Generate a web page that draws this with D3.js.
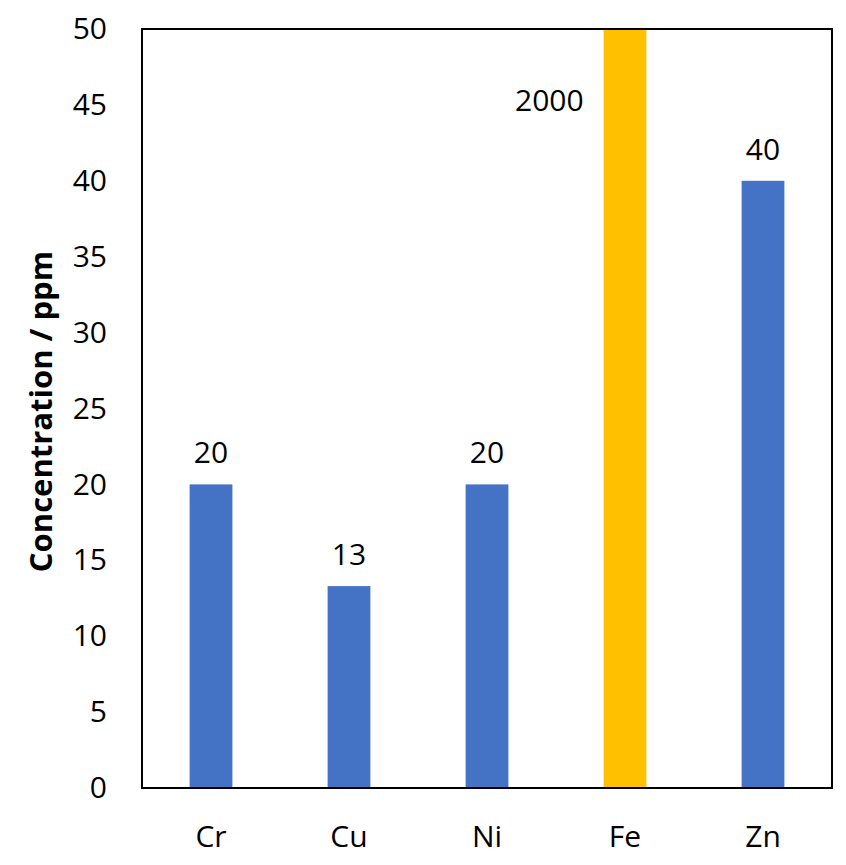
<!DOCTYPE html>
<html><head><meta charset="utf-8">
<script src="https://cdn.jsdelivr.net/npm/d3@7"></script>
<style>body{margin:0;background:#fff}</style>
</head><body>
<script>
const categories = ["Cr","Cu","Ni","Fe","Zn"];
const values = [20, 13.3, 20, 2000, 40];
const labels = ["20","13","20","2000","40"];
const colors = ["#4472C4","#4472C4","#4472C4","#FFC000","#4472C4"];
const yTicks = [0,5,10,15,20,25,30,35,40,45,50];

const W = 846, H = 865;
const m = {left:142, top:29, right:14, bottom:77};
const font = "'Open Sans', 'Liberation Sans', sans-serif";
const fs = 30;
const svg = d3.select("body").append("svg").attr("width",W).attr("height",H);
const x = d3.scaleBand().domain(categories).range([m.left, W-m.right]).paddingInner(0.69).paddingOuter(0.345);
const y = d3.scaleLinear().domain([0,50]).range([H-m.bottom, m.top]);

svg.append("defs").append("clipPath").attr("id","clip").append("rect")
  .attr("x",m.left).attr("y",m.top).attr("width",W-m.right-m.left).attr("height",H-m.bottom-m.top);

svg.append("g").attr("clip-path","url(#clip)").selectAll("rect").data(categories).join("rect")
  .attr("x",d=>x(d)).attr("width",x.bandwidth())
  .attr("y",(d,i)=>y(Math.min(values[i],50))).attr("height",(d,i)=>y(0)-y(Math.min(values[i],50)))
  .attr("fill",(d,i)=>colors[i]);

// frame
svg.append("rect").attr("x",m.left).attr("y",m.top).attr("width",W-m.right-m.left).attr("height",H-m.bottom-m.top)
  .attr("fill","none").attr("stroke","#000").attr("stroke-width",2);

const ya = svg.append("g").attr("transform",`translate(${m.left},0)`)
  .call(d3.axisLeft(y).tickValues(yTicks).tickSize(0).tickPadding(35));
ya.select(".domain").remove();
ya.selectAll("text").attr("font-family",font).attr("font-size",fs).attr("fill","#000");

const xa = svg.append("g").attr("transform",`translate(0,${H-m.bottom})`)
  .call(d3.axisBottom(x).tickSize(0).tickPadding(0));
xa.select(".domain").remove();
xa.selectAll("text").attr("font-family",font).attr("font-size",fs).attr("fill","#000")
  .attr("dy",null).attr("y",59);

// data labels
svg.selectAll(".lbl").data(categories).join("text").attr("class","lbl")
  .attr("x",(d,i)=> values[i]>50 ? x(d)-20 : x(d)+x.bandwidth()/2)
  .attr("y",(d,i)=> values[i]>50 ? y(44.6) : y(values[i])-21)
  .attr("text-anchor",(d,i)=> values[i]>50 ? "end" : "middle")
  .attr("font-family",font).attr("font-size",fs).attr("fill","#000")
  .text((d,i)=>labels[i]);

svg.append("text").attr("transform",`translate(52,${(m.top+H-m.bottom)/2+3}) rotate(-90)`)
  .attr("text-anchor","middle").attr("font-family",font).attr("font-size",31).attr("font-weight","bold")
  .text("Concentration / ppm");
</script>
</body></html>
